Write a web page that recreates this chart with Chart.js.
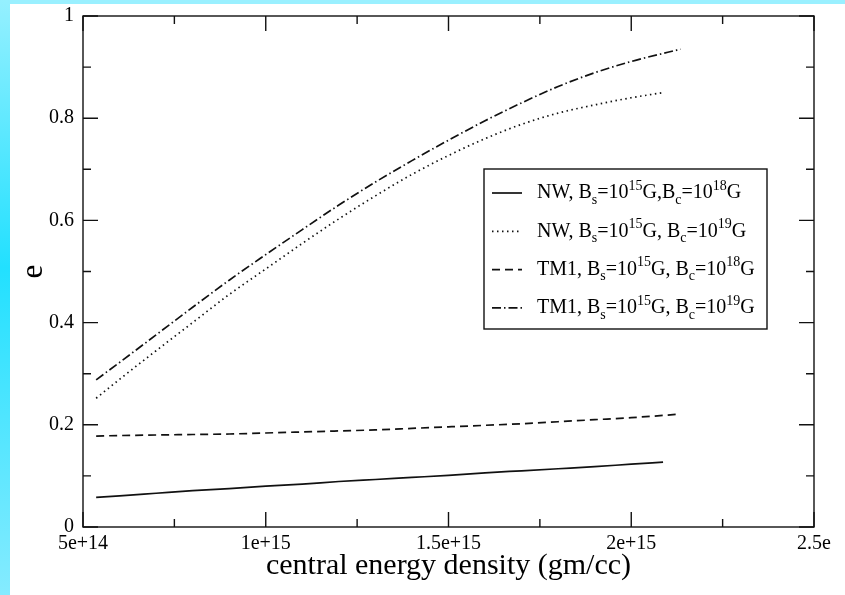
<!DOCTYPE html>
<html>
<head>
<meta charset="utf-8">
<script src="https://cdn.jsdelivr.net/npm/chart.js@4/dist/chart.umd.min.js"></script>
<style>
  html, body { margin: 0; padding: 0; }
  #frame { position: relative; width: 845px; height: 595px; background: #9af0ff; overflow: hidden; }
  #strip { position: absolute; left: 0; top: 0; width: 10px; height: 595px;
           background: linear-gradient(to bottom, #95f0ff 0%, #22e0ff 45%, #85ebff 100%); }
  #plot { position: absolute; left: 10px; top: 4px; width: 835px; height: 591px; background: #fff; }
</style>
</head>
<body>
<div id="frame">
  <div id="strip"></div>
  <div id="plot"><canvas id="eccChart" width="835" height="591"></canvas></div>
</div>
<script>
// central energy density (gm/cc) for each equation of state
const densNW = [5.36e14, 6e14, 7e14, 8e14, 9e14, 10e14, 11e14, 12e14, 13e14, 14e14, 15e14, 16e14, 17e14, 18e14, 19e14, 20e14, 20.87e14];
const densTM1 = [5.36e14, 6e14, 7e14, 8e14, 9e14, 10e14, 11e14, 12e14, 13e14, 14e14, 15e14, 16e14, 17e14, 18e14, 19e14, 20e14, 21e14, 21.35e14];

// ellipticity e
const eNW18 = [0.058, 0.061, 0.066, 0.071, 0.075, 0.080, 0.084, 0.089, 0.093, 0.097, 0.101, 0.106, 0.110, 0.114, 0.118, 0.123, 0.127];
const eNW19 = [0.252, 0.289, 0.345, 0.400, 0.455, 0.505, 0.555, 0.603, 0.648, 0.690, 0.727, 0.760, 0.788, 0.810, 0.826, 0.840, 0.850];
const eTM18 = [0.178, 0.179, 0.180, 0.181, 0.182, 0.184, 0.186, 0.188, 0.190, 0.193, 0.196, 0.199, 0.202, 0.206, 0.210, 0.214, 0.219, 0.221];
const eTM19 = [0.288, 0.322, 0.376, 0.430, 0.483, 0.533, 0.582, 0.630, 0.675, 0.717, 0.757, 0.795, 0.830, 0.862, 0.889, 0.911, 0.929, 0.935];

// _x = subscript char, ^nn = superscript digits
const seriesLabels = [
    'NW, B_s=10^15G,B_c=10^18G',
    'NW, B_s=10^15G, B_c=10^19G',
    'TM1, B_s=10^15G, B_c=10^18G',
    'TM1, B_s=10^15G, B_c=10^19G'
];

const xTickLabels = ['5e+14', '1e+15', '1.5e+15', '2e+15', '2.5e'];
const yTickLabels = ['0', '0.2', '0.4', '0.6', '0.8', '1'];

const SERIF = "'Liberation Serif', 'DejaVu Serif', serif";
const INK = '#000';

function toPoints(xs, ys) {
    return xs.map((x, i) => ({ x: x, y: ys[i] }));
}

function lineSet(label, xs, ys, dash) {
    return {
        label: label,
        data: toPoints(xs, ys),
        borderColor: '#111',
        borderWidth: 1.7,
        borderDash: dash,
        pointRadius: 0,
        fill: false,
        cubicInterpolationMode: 'monotone'
    };
}

// frame plus inward major/minor ticks on every side
const frameTicks = {
    id: 'frameTicks',
    afterDatasetsDraw(chart) {
        const ctx = chart.ctx;
        const a = chart.chartArea;
        const xs = chart.scales.x, ys = chart.scales.y;
        ctx.save();
        ctx.strokeStyle = '#111';
        ctx.lineWidth = 1.4;
        ctx.setLineDash([]);
        ctx.strokeRect(a.left, a.top, a.right - a.left, a.bottom - a.top);
        ctx.beginPath();
        for (let v = 5e14; v <= 2.5e15 + 1; v += 2.5e14) {
            const px = xs.getPixelForValue(v);
            const major = Math.round(v / 2.5e14) % 2 === 0;
            const len = major ? 15 : 8;
            ctx.moveTo(px, a.bottom); ctx.lineTo(px, a.bottom - len);
            ctx.moveTo(px, a.top); ctx.lineTo(px, a.top + len);
        }
        for (let i = 0; i <= 10; i++) {
            const py = ys.getPixelForValue(i / 10);
            const len = i % 2 === 0 ? 15 : 8;
            ctx.moveTo(a.left, py); ctx.lineTo(a.left + len, py);
            ctx.moveTo(a.right, py); ctx.lineTo(a.right - len, py);
        }
        ctx.stroke();
        ctx.restore();
    }
};

function drawRichText(ctx, text, x, y) {
    const parts = text.split(/(_\w|\^\d+)/).filter(s => s.length);
    let cx = x;
    parts.forEach(p => {
        if (p[0] === '_') {
            ctx.font = '14px ' + SERIF;
            ctx.fillText(p.slice(1), cx, y + 7);
            cx += ctx.measureText(p.slice(1)).width;
        } else if (p[0] === '^') {
            ctx.font = '14px ' + SERIF;
            ctx.fillText(p.slice(1), cx, y - 7);
            cx += ctx.measureText(p.slice(1)).width;
        } else {
            ctx.font = '20px ' + SERIF;
            ctx.fillText(p, cx, y);
            cx += ctx.measureText(p).width;
        }
    });
}

// boxed legend with sub/superscripted labels
const boxLegend = {
    id: 'boxLegend',
    afterDraw(chart) {
        const ctx = chart.ctx;
        const a = chart.chartArea;
        const bx = a.left + 401, by = a.top + 153, bw = 283, bh = 160;
        ctx.save();
        ctx.fillStyle = '#fff';
        ctx.fillRect(bx, by, bw, bh);
        ctx.strokeStyle = '#111';
        ctx.lineWidth = 1.4;
        ctx.setLineDash([]);
        ctx.strokeRect(bx, by, bw, bh);
        chart.data.datasets.forEach((ds, i) => {
            const ry = by + 24 + i * 38.3;
            ctx.beginPath();
            ctx.setLineDash(ds.borderDash || []);
            ctx.lineWidth = ds.borderWidth;
            ctx.strokeStyle = ds.borderColor;
            ctx.moveTo(bx + 8, ry);
            ctx.lineTo(bx + 38, ry);
            ctx.stroke();
            ctx.setLineDash([]);
            ctx.fillStyle = INK;
            ctx.textBaseline = 'middle';
            drawRichText(ctx, ds.label, bx + 53, ry);
        });
        ctx.restore();
    }
};

new Chart(document.getElementById('eccChart'), {
    type: 'line',
    data: {
        datasets: [
            lineSet(seriesLabels[0], densNW, eNW18, []),
            lineSet(seriesLabels[1], densNW, eNW19, [1.5, 3.5]),
            lineSet(seriesLabels[2], densTM1, eTM18, [8, 5]),
            lineSet(seriesLabels[3], densTM1, eTM19, [9, 3, 1.5, 3])
        ]
    },
    options: {
        responsive: false,
        animation: false,
        layout: { padding: { top: 12, right: 31, left: 0, bottom: 0 } },
        plugins: {
            legend: { display: false },
            tooltip: { enabled: false }
        },
        scales: {
            x: {
                type: 'linear',
                min: 5e14,
                max: 2.5e15,
                afterFit(scale) {
                    scale.height = 68;
                    scale.paddingLeft = 0;
                    scale.paddingRight = 0;
                },
                grid: { display: false, drawTicks: false },
                border: { display: false },
                ticks: {
                    stepSize: 5e14,
                    padding: 5,
                    maxRotation: 0,
                    color: INK,
                    font: { family: SERIF, size: 20 },
                    callback: (v, i) => xTickLabels[i]
                },
                title: {
                    display: true,
                    text: 'central energy density (gm/cc)',
                    color: INK,
                    font: { family: SERIF, size: 30 },
                    padding: { top: 0, bottom: 11 }
                }
            },
            y: {
                min: 0,
                max: 1,
                afterFit(scale) {
                    scale.width = 73;
                    scale.paddingTop = 0;
                    scale.paddingBottom = 0;
                },
                grid: { display: false, drawTicks: false },
                border: { display: false },
                ticks: {
                    stepSize: 0.2,
                    padding: 9,
                    color: INK,
                    font: { family: SERIF, size: 20 },
                    callback: (v, i) => yTickLabels[i]
                },
                title: {
                    display: true,
                    text: 'e',
                    color: INK,
                    font: { family: SERIF, size: 31 },
                    padding: { top: 5, bottom: 0 }
                }
            }
        }
    },
    plugins: [frameTicks, boxLegend]
});
</script>
</body>
</html>
